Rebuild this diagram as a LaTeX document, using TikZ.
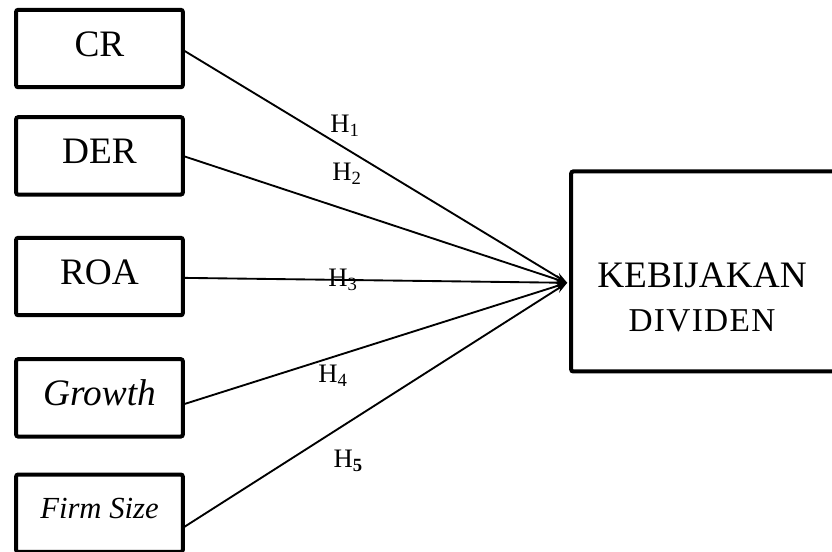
\documentclass[tikz,border=0pt]{standalone}
\usepackage{fontspec}
\setmainfont{Liberation Serif}
\usepackage{tikz}
\usetikzlibrary{arrows.meta,positioning}

\begin{document}
\begin{tikzpicture}[
    node distance=1cm,
    varbox/.style={rectangle, draw, line width=3pt, rounded corners=1.5pt, minimum width=125pt, minimum height=58pt, outer sep=0pt, inner sep=0pt, font=\fontsize{28}{32}\selectfont, text height=18pt, text depth=6.2pt},
    bigbox/.style={rectangle, draw, line width=3pt, rounded corners=1.5pt, minimum width=209pt, minimum height=150pt, outer sep=0pt},
    hyp/.style={font=\fontsize{20}{24}\selectfont, inner sep=0pt},
    arrow/.style={->, >={Stealth[length=9pt, width=6pt]}, line width=1.4pt}
]
\useasboundingbox (0,0) rectangle (624pt,-414pt);

% Nodes
\node[varbox] (cr) at (74.6pt,-36.4pt) {CR};
\node[varbox, below=22.5pt of cr] (der) {DER};
\node[varbox, below=32.5pt of der] (roa) {ROA};
\node[varbox, below=33pt of roa] (growth) {\textit{Growth}};
\node[varbox, below=28.5pt of growth, font=\fontsize{23}{28}\selectfont\itshape, text height=15pt, text depth=7.3pt] (firmsize) {Firm Size};

\node[bigbox] (kebijakan) at (532.9pt,-203.6pt) {};
\node[align=center, inner sep=0pt] (judul) at ([xshift=-6.4pt, yshift=-19.5pt]kebijakan.center)
    {\fontsize{28}{30}\selectfont KEBIJAKAN\\[16pt]\fontsize{25}{26}\selectfont\addfontfeature{LetterSpace=4}DIVIDEN};
\coordinate (tip) at ([xshift=-3pt, yshift=-8.5pt]kebijakan.west);

% Edges
\draw[arrow] ([yshift=-1pt]cr.east) -- (tip);
\draw[arrow] (der.east) -- (tip);
\draw[arrow] ([yshift=-1pt]roa.east) -- (tip);
\draw[arrow] ([yshift=-5pt]growth.east) -- (tip);
\draw[arrow] ([yshift=-11pt]firmsize.east) -- (tip);

% Labels
\node[hyp] (h1) at (258.75pt,-94.5pt) {H\textsubscript{1}};
\node[hyp] (h2) at (260.25pt,-130.5pt) {H\textsubscript{2}};
\node[hyp] (h3) at (257.25pt,-210pt) {H\textsubscript{3}};
\node[hyp] (h4) at (249.75pt,-282pt) {H\textsubscript{4}};
\node[hyp] (h5) at (261pt,-345.75pt) {H\raisebox{-0.3ex}{\fontsize{14}{16}\selectfont\textbf{5}}};

\end{tikzpicture}
\end{document}
